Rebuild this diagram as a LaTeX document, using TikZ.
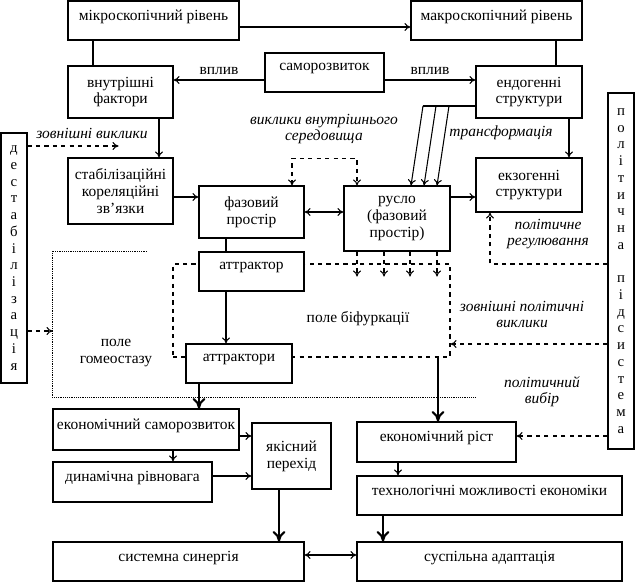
\documentclass[tikz,border=0pt]{standalone}
\usepackage{fontspec}
\setmainfont{Liberation Serif}
\usepackage{tikz}
\usetikzlibrary{arrows.meta}

\begin{document}
\begin{tikzpicture}[x=0.025cm,y=-0.025cm,
    font=\fontsize{11}{12}\selectfont,
    >={To[length=1.5mm,width=2mm]},
    box/.style 2 args={draw,fill=white,line width=0.75pt,inner sep=1pt,align=center,
      minimum width=#1*0.025cm,minimum height=#2*0.025cm},
    raised/.style={text depth=0.28cm},
    letters/.style={font=\fontsize{10.5}{11.9}\selectfont},
    note/.style={font=\fontsize{11}{11.4}\selectfont\itshape,align=center},
    line/.style={line width=0.75pt},
    bigarr/.style={line width=1.5pt,-{To[length=2.6mm,width=3.2mm]}}]
    \useasboundingbox (0,0) rectangle (635,582);
    \fill[white] (0,0) rectangle (635,582);

    % fields
    \node[box={277}{93},dashed,fill=none] (bif) at (311.5,310.5) {};
    \node (biftext) at (358,319) {поле біфуркації};
    \draw[line width=0.5pt,dash pattern=on 0.5pt off 0.8pt] (147,251) -- (52,251) -- (52,397) -- (475,397);
    \node[align=center] (homtext) at (116,353) {поле\\гомеостазу};

    % upper part
    \node[box={171}{39},raised] (micro) at (153.5,20.5) {мікроскопічний рівень};
    \node[box={171}{39},raised] (macro) at (496.5,20.5) {макроскопічний рівень};
    \node[box={119}{39},raised] (selfdev) at (324.5,72.5) {саморозвиток};
    \node[box={105}{52}] (inner) at (120.5,92) {внутрішні\\фактори};
    \node[box={106}{52}] (endo) at (529,92) {ендогенні\\структури};
    \node[box={106}{54}] (exo) at (529,185) {екзогенні\\структури};
    \node[box={105}{66}] (stab) at (120.5,191) {стабілізаційні\\кореляційні\\зв’язки};
    \node[box={105}{52}] (phase) at (251.5,212) {фазовий\\простір};
    \node[box={106}{65}] (channel) at (397,218.5) {русло\\(фазовий\\простір)};
    \node[box={105}{39},raised] (attr) at (251.5,271.5) {аттрактор};
    \node[box={106}{39},raised] (attrs) at (239,363.5) {аттрактори};

    % side bars
    \node[box={26}{250},letters] (destab) at (14,258)
      {д\\е\\с\\т\\а\\б\\і\\л\\і\\з\\а\\ц\\і\\я};
    \node[box={26}{356},letters] (polit) at (621,271)
      {п\\о\\л\\і\\т\\и\\ч\\н\\а\\[11.9pt]п\\і\\д\\с\\и\\с\\т\\е\\м\\а};

    % lower part
    \node[box={186}{41},raised] (ecoself) at (146,429.5) {економічний саморозвиток};
    \node[box={159}{40},raised] (dyneq) at (132.5,482) {динамічна рівновага};
    \node[box={79}{66}] (quality) at (291.5,456) {якісний\\перехід};
    \node[box={251}{39},raised] (synergy) at (178.5,561.5) {системна синергія};
    \node[box={159}{40},raised] (growth) at (436.5,442) {економічний ріст};
    \node[box={265}{39},raised] (tech) at (489.5,495.5) {технологічні можливості економіки};
    \node[box={265}{39},raised] (adapt) at (489.5,561.5) {суспільна адаптація};

    % labels
    \node[note] (extch) at (92,133) {зовнішні виклики};
    \node[note] (innch) at (324,129) {виклики внутрішнього\\середовища};
    \node[note] (transf) at (501,133) {трансформація};
    \node[note] (polreg) at (548,234) {політичне\\регулювання};
    \node[note] (polch) at (522,314) {зовнішні політичні\\виклики};
    \node[note] (polsel) at (542,392) {політичний\\вибір};

    % connectors
    \draw[line,->] (micro.east |- 0,27) -- (macro.west |- 0,27);
    \draw[line] (micro.south -| 93,0) -- (inner.north -| 93,0);
    \draw[line] (macro.south -| 556,0) -- (endo.north -| 556,0);
    \draw[line,->] (selfdev.west |- 0,80) -- node[above] {вплив} (inner.east |- 0,80);
    \draw[line,->] (selfdev.east |- 0,80) -- node[above] {вплив} (endo.west |- 0,80);
    \draw[line,->] (endo.south -| 569,0) -- (exo.north -| 569,0);
    \draw[line,->] (inner.south -| 159,0) -- (stab.north -| 159,0);

    \coordinate (tr1) at (423,106);
    \coordinate (tr2) at (436,106);
    \coordinate (tr3) at (449,106);
    \draw[line] (endo.west |- tr1) -- (tr1);
    \draw[line,->] (tr1) -- (channel.north -| 411,0);
    \draw[line,->] (tr2) -- (channel.north -| 424,0);
    \draw[line,->] (tr3) -- (channel.north -| 437,0);

    \draw[line,->] (stab.east |- 0,197) -- (phase.west |- 0,197);
    \draw[line,<->] (phase.east) -- (channel.west |- phase.east);
    \draw[line,->] (channel.east |- 0,197) -- (exo.west |- 0,197);
    \draw[line,dashed,<->] (phase.north -| 292,0) -- ++(0,-27) -| (channel.north -| 357,0);
    \draw[line] (phase.south -| 226,0) -- (attr.north -| 226,0);
    \draw[line,->] (attr.south -| 226,0) -- (attrs.north -| 226,0);
    \foreach \x in {357,384,410,437}
      \draw[line,dashed,->] (channel.south -| \x,0) -- ++(0,25);

    \draw[line,dashed,->] (destab.east |- 0,146) -- ++(91,0);
    \draw[line,dashed,->] (destab.east |- 0,331) -- ++(25,0);
    \draw[line,dashed,->] (polit.west |- 0,264) -| (exo.south -| 490,0);
    \draw[line,dashed,->] (polit.west |- 0,344) -- (bif.east |- 0,344);
    \draw[line,dashed,->] (polit.west |- 0,436) -- (growth.east |- 0,436);

    \draw[bigarr] (attrs.south -| 199,0) -- (ecoself.north -| 199,0);
    \draw[bigarr] (bif.south -| 438,0) -- (growth.north -| 438,0);
    \draw[line,->] (ecoself.south -| 173,0) -- (dyneq.north -| 173,0);
    \draw[line,->] (ecoself.east |- 0,436) -- (quality.west |- 0,436);
    \draw[line,->] (dyneq.east |- 0,476) -- (quality.west |- 0,476);
    \draw[bigarr] (quality.south -| 279,0) -- (synergy.north -| 279,0);
    \draw[line,->] (growth.south -| 398,0) -- (tech.north -| 398,0);
    \draw[bigarr] (tech.south -| 383,0) -- (adapt.north -| 383,0);
    \draw[line,<->] (synergy.east |- 0,555) -- (adapt.west |- 0,555);
\end{tikzpicture}
\end{document}
